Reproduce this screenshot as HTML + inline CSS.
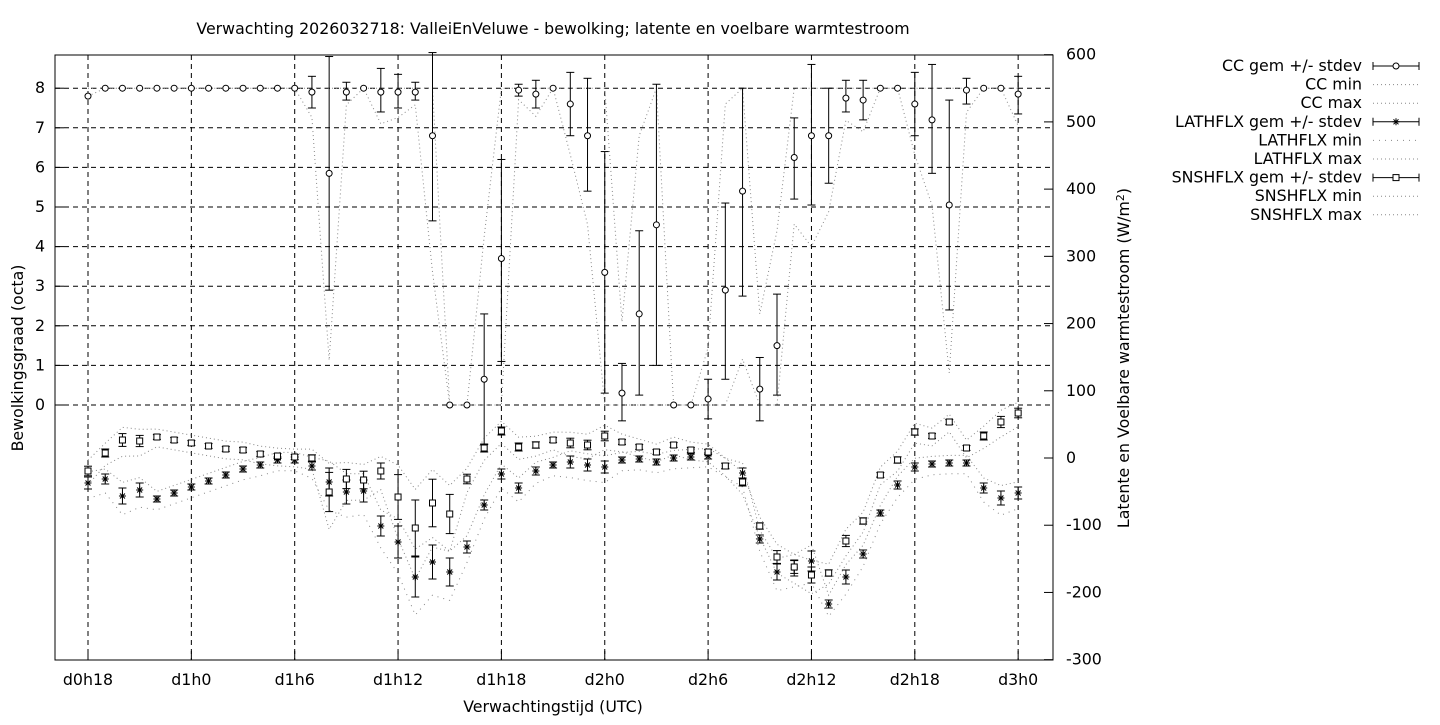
<!DOCTYPE html>
<html><head><meta charset="utf-8"><style>
body{margin:0;background:#fff;width:1440px;height:720px;overflow:hidden}
svg{font-family:"DejaVu Sans","Liberation Sans",sans-serif;font-size:15.8px}
</style></head><body>
<svg id="s" width="1440" height="720" xmlns="http://www.w3.org/2000/svg"></svg>
<script>
const S=document.getElementById('s');let h='';
const X=i=>88+i*17.225;
const YC=v=>405-v*39.6;
h+='<rect x="55" y="55" width="998" height="605" fill="none" stroke="#000"/>';
for(let v=0;v<=8;v++){const y=YC(v);h+=`<line x1="55" y1="${y}" x2="1053" y2="${y}" stroke="#000" stroke-dasharray="5,4"/><line x1="55" y1="${y}" x2="64" y2="${y}" stroke="#000"/><text x="45" y="${y+5}" text-anchor="end">${v}</text>`;}
const xl=['d0h18','d1h0','d1h6','d1h12','d1h18','d2h0','d2h6','d2h12','d2h18','d3h0'];
xl.forEach((t,k)=>{const x=X(k*6);h+=`<line x1="${x}" y1="55" x2="${x}" y2="660" stroke="#000" stroke-dasharray="5,4"/><line x1="${x}" y1="660" x2="${x}" y2="651" stroke="#000"/><text x="${x}" y="685" text-anchor="middle">${t}</text>`;});
for(let v=-300;v<=600;v+=100){const y=458-v*0.6722;h+=`<line x1="1044" y1="${y}" x2="1053" y2="${y}" stroke="#000"/><text x="1066" y="${y+5}">${v}</text>`;}
h+='<text x="553" y="34" text-anchor="middle">Verwachting 2026032718: ValleiEnVeluwe - bewolking; latente en voelbare warmtestroom</text>';
h+='<text x="553" y="712" text-anchor="middle">Verwachtingstijd (UTC)</text>';
h+='<text transform="translate(23,358) rotate(-90)" text-anchor="middle">Bewolkingsgraad (octa)</text>';
h+='<text transform="translate(1129,358) rotate(-90)" text-anchor="middle">Latente en Voelbare warmtestroom (W/m<tspan dy="-5" font-size="11">2</tspan><tspan dy="5">)</tspan></text>';
const cc=[[7.8],[8],[8],[8],[8],[8],[8],[8],[8],[8],[8],[8],[8],[7.9,7.5,8.3],[5.85,2.9,8.8],[7.9,7.7,8.15],[8],[7.9,7.4,8.5],[7.9,7.5,8.35],[7.9,7.7,8.15],[6.8,4.65,8.9],[0],[0],[0.65,-1,2.3],[3.7,1.1,6.2],[7.95,7.8,8.1],[7.85,7.5,8.2],[8],[7.6,6.8,8.4],[6.8,5.4,8.25],[3.35,0.3,6.4],[0.3,-0.4,1.05],[2.3,0.25,4.4],[4.55,1.0,8.1],[0],[0],[0.15,-0.35,0.65],[2.9,0.65,5.1],[5.4,2.75,8.0],[0.4,-0.4,1.2],[1.5,0.25,2.8],[6.25,5.2,7.25],[6.8,5.05,8.6],[6.8,5.6,8.0],[7.75,7.4,8.2],[7.7,7.2,8.2],[8],[8],[7.6,6.8,8.4],[7.2,5.85,8.6],[5.05,2.4,7.7],[7.95,7.6,8.25],[8],[8],[7.85,7.35,8.3]];
const lat=[483,479,496,490,499,493,487,481,475,469,465,460,460,466,482,492,491,526,542,577,562,572,547,505,474,488,471,465,462,465,467,460,459,462,458,457,456,466,473,539,572,568,561,604,577,554,513,485,467,464,463,463,488,498,493];
const sns=[471,453,440,441,437,440,443,446,449,450,454,456,457,458,492,479,480,471,497,528,503,514,479,448,431,447,445,440,443,445,436,442,447,452,445,450,452,466,482,526,557,567,575,573,541,521,475,460,432,436,422,448,436,422,413];
const le=[6,5,8,7,3,3,3,3,3,3,3,3,3,4,14,12,11,10,16,20,17,14,6,5,5,5,4,3,6,6,6,3,3,3,3,3,3,3,5,4,8,8,10,4,7,4,3,4,4,3,3,3,5,7,6];
const se=le.map((e,i)=>[14,18,19,20,21].includes(i)?e*1.4:e*0.8);
function pl(pts,da){return `<polyline fill="none" stroke="#888" stroke-width="1" stroke-dasharray="${da}" points="${pts.map(p=>p.join(',')).join(' ')}"/>`;}
let mn=[],mx=[];
cc.forEach((d,i)=>{const v=d[0],lo=d.length>1?d[1]:v,hi=d.length>1?d[2]:v;
mn.push([X(i),YC(Math.max(0,v-1.6*(v-lo)))]);mx.push([X(i),YC(v===0?0:Math.min(8,v+2*(hi-v)+0.3))]);});
h+=pl(mn,'1,3')+pl(mx,'1,3');
let lmn=[],lmx=[],smn=[],smx=[];
for(let i=0;i<55;i++){lmn.push([X(i),lat[i]+le[i]*1.6+6]);lmx.push([X(i),lat[i]-le[i]*1.2-4]);smn.push([X(i),sns[i]+se[i]*1.6+6]);smx.push([X(i),sns[i]-se[i]*1.2-5]);}
h+=pl(lmn,'1,5')+pl(lmx,'1,3')+pl(smn,'1,3')+pl(smx,'1,3');
function eb(x,y1,y2){return `<line x1="${x}" y1="${y1}" x2="${x}" y2="${y2}" stroke="#000"/><line x1="${x-4}" y1="${y1}" x2="${x+4}" y2="${y1}" stroke="#000"/><line x1="${x-4}" y1="${y2}" x2="${x+4}" y2="${y2}" stroke="#000"/>`;}
const star=(x,y)=>`<path d="M${x-3.5} ${y}h7M${x} ${y-3.5}v7M${x-2.5} ${y-2.5}l5 5M${x-2.5} ${y+2.5}l5 -5" stroke="#000"/>`;
cc.forEach((d,i)=>{const x=X(i);if(d.length>1)h+=eb(x,YC(d[2]),YC(d[1]));h+=`<circle cx="${x}" cy="${YC(d[0])}" r="3" fill="#fff" stroke="#000"/>`;});
for(let i=0;i<55;i++){const x=X(i);h+=eb(x,lat[i]-le[i],lat[i]+le[i])+star(x,lat[i]);h+=eb(x,sns[i]-se[i],sns[i]+se[i])+`<rect x="${x-3}" y="${sns[i]-3}" width="6" height="6" fill="#fff" stroke="#000"/>`;}
const L=['CC gem +/- stdev','CC min','CC max','LATHFLX gem +/- stdev','LATHFLX min','LATHFLX max','SNSHFLX gem +/- stdev','SNSHFLX min','SNSHFLX max'];
L.forEach((t,k)=>{const y=66+k*18.6;h+=`<text x="1362" y="${y+5}" text-anchor="end">${t}</text>`;
if(k%3==0){h+=`<line x1="1373" y1="${y}" x2="1419" y2="${y}" stroke="#000"/><line x1="1373" y1="${y-4}" x2="1373" y2="${y+4}" stroke="#000"/><line x1="1419" y1="${y-4}" x2="1419" y2="${y+4}" stroke="#000"/>`;
if(k==0)h+=`<circle cx="1396" cy="${y}" r="3" fill="#fff" stroke="#000"/>`;if(k==3)h+=star(1396,y);if(k==6)h+=`<rect x="1393" y="${y-3}" width="6" height="6" fill="#fff" stroke="#000"/>`;}
else h+=pl([[1373,y],[1419,y]],k==4?'1,5':'1,3');});
S.innerHTML=h;
</script>
</body></html>
